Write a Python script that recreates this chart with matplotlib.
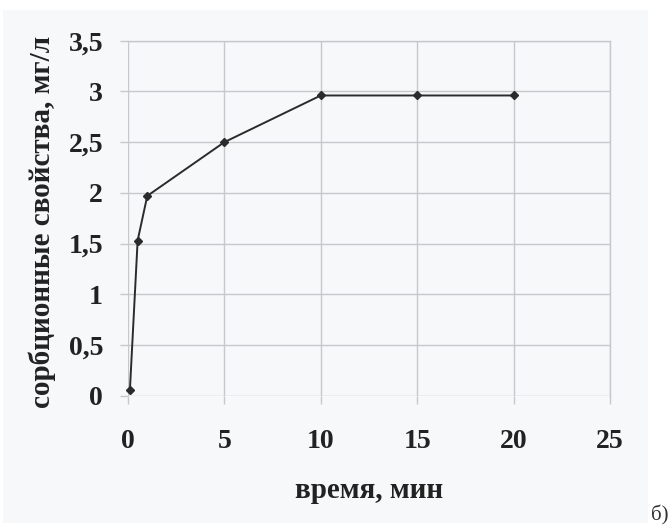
import matplotlib.pyplot as plt
from matplotlib.patches import Rectangle

# время, мин / сорбционные свойства, мг/л
time_min = [0.1, 0.5, 1, 5, 10, 15, 20]
sorption = [0.06, 1.53, 1.97, 2.50, 2.96, 2.96, 2.96]

x_ticks = [0, 5, 10, 15, 20, 25]
y_ticks = [0, 0.5, 1, 1.5, 2, 2.5, 3, 3.5]
y_tick_labels = ['0', '0,5', '1', '1,5', '2', '2,5', '3', '3,5']

plt.rcParams['font.family'] = ['Liberation Serif', 'DejaVu Serif']
grid_col = '#c6c8cc'

fig = plt.figure(figsize=(6.72, 5.27), dpi=100)
fig.patch.set_facecolor('white')
# light panel behind the chart
fig.patches.append(Rectangle((3 / 672, 1 - 523 / 527), 645 / 672, 513 / 527,
                             transform=fig.transFigure, facecolor='#f7f8f9',
                             edgecolor='none', zorder=-5))

ax = fig.add_axes([128 / 672, 1 - 395.7 / 527, 482 / 672, 355 / 527])
ax.set_zorder(2)
ax.set_facecolor('none')
ax.plot(time_min, sorption, color='#2b2b2b', lw=1.4, marker='D', ms=4,
        mfc='#2b2b2b', mec='#2b2b2b', zorder=3, clip_on=False)

ax.set_xlim(0, 25)
ax.set_ylim(0, 3.5)
ax.set_xticks(x_ticks)
ax.set_xticklabels([str(t) for t in x_ticks])
ax.set_yticks(y_ticks)
ax.set_yticklabels(y_tick_labels)
ax.grid(True, color=grid_col, lw=1)
for s in ax.spines.values():
    s.set_color(grid_col)
    s.set_linewidth(1)
ax.spines['bottom'].set_visible(False)
ax.spines['left'].set_visible(False)
ax.tick_params(axis='both', length=6, width=1, color=grid_col,
               labelsize=20, labelcolor='#222222')
ax.tick_params(axis='x', pad=18)
ax.tick_params(axis='y', pad=12)
for lab in ax.get_xticklabels() + ax.get_yticklabels():
    lab.set_fontweight('bold')

ax.set_xlabel('время, мин', fontsize=21, fontweight='bold', color='#222222')
ax.set_ylabel('сорбционные свойства, мг/л', fontsize=21, fontweight='bold',
              color='#222222')
ax.xaxis.set_label_coords(0.5, -0.23)
ax.yaxis.set_label_coords(-0.15, 0.49)

fig.text(651 / 672, 1 - 520 / 527, 'б)', fontsize=15, color='#333333')

fig.savefig('out.png', dpi=100)
